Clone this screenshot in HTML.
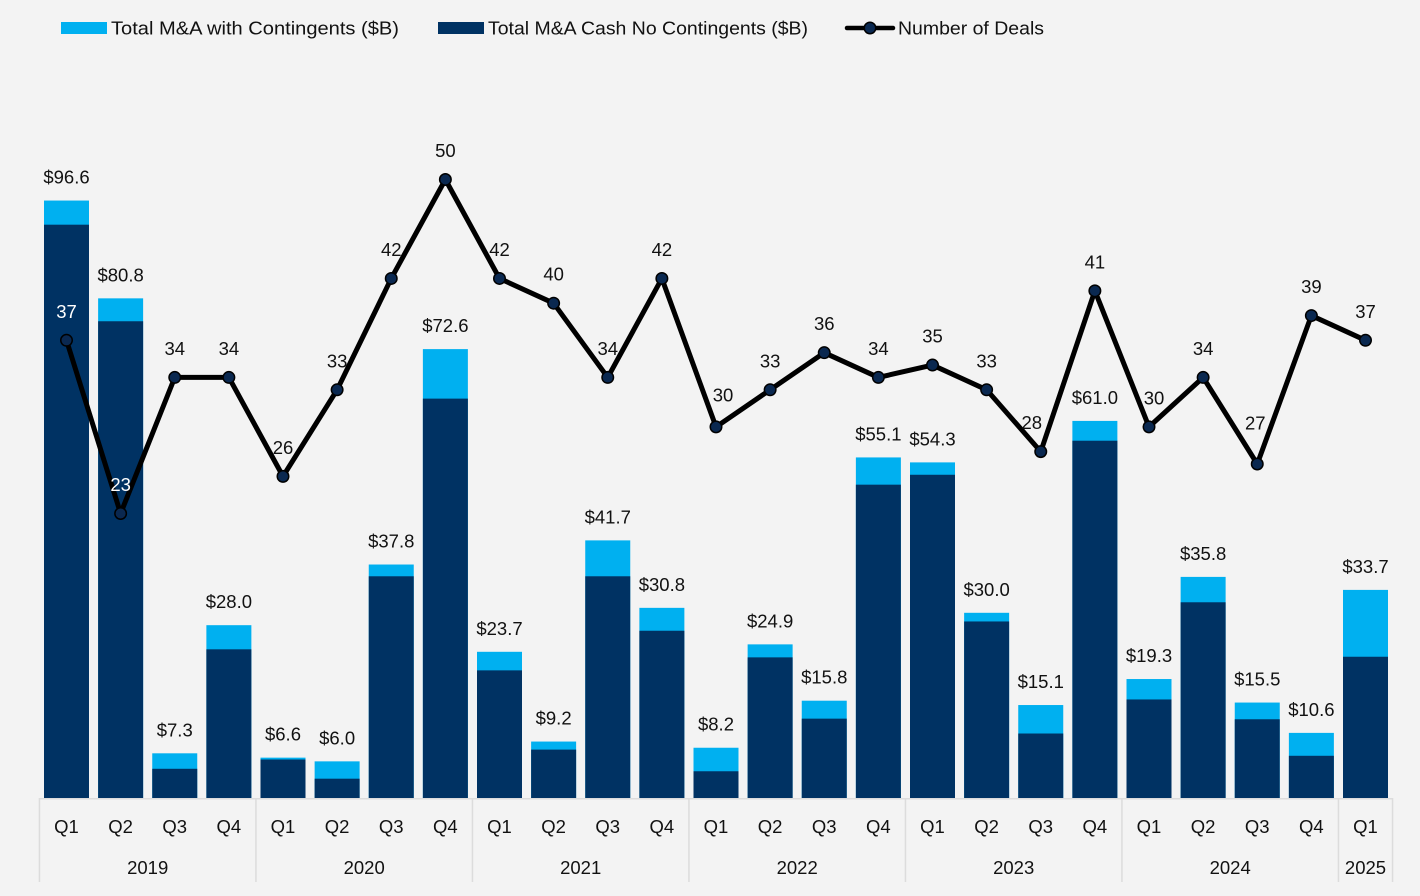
<!DOCTYPE html>
<html lang="en">
<head>
<meta charset="utf-8">
<title>M&amp;A by quarter</title>
<style>
html,body{margin:0;padding:0;background:#f3f3f3;}
svg{display:block;}
text{font-family:"Liberation Sans",sans-serif;font-size:18.5px;fill:#111;}
</style>
</head>
<body>
<svg id="chart" xmlns="http://www.w3.org/2000/svg" width="1420" height="896" viewBox="0 0 1420 896">
  <rect x="0" y="0" width="1420" height="896" fill="#f3f3f3"/>
  <g>
    <rect x="61" y="22" width="46" height="12" fill="#00b0f0"/>
    <text x="111" y="34.5" textLength="288" lengthAdjust="spacingAndGlyphs">Total M&amp;A with Contingents ($B)</text>
    <rect x="438" y="22" width="46" height="12" fill="#003263"/>
    <text x="488" y="34.5" textLength="320" lengthAdjust="spacingAndGlyphs">Total M&amp;A Cash No Contingents ($B)</text>
    <line x1="847" y1="28" x2="893" y2="28" stroke="#000" stroke-width="4.5" stroke-linecap="round"/>
    <circle cx="870" cy="28" r="5.75" fill="#0a2850" stroke="#000" stroke-width="1.5"/>
    <text x="898" y="34.5" textLength="146" lengthAdjust="spacingAndGlyphs">Number of Deals</text>
  </g>
  <g id="bars"></g>
  <g id="axis"></g>
  <g id="line"></g>
  <g id="labels"></g>
</svg>
<script>
const quarters = ["Q1","Q2","Q3","Q4","Q1","Q2","Q3","Q4","Q1","Q2","Q3","Q4","Q1","Q2","Q3","Q4","Q1","Q2","Q3","Q4","Q1","Q2","Q3","Q4","Q1"];
const years = ["2019","2020","2021","2022","2023","2024","2025"];
const quartersPerYear = [4,4,4,4,4,4,1];
const totalValues = [96.6,80.8,7.3,28.0,6.6,6.0,37.8,72.6,23.7,9.2,41.7,30.8,8.2,24.9,15.8,55.1,54.3,30.0,15.1,61.0,19.3,35.8,15.5,10.6,33.7];
const cashValues = [92.7,77.1,4.8,24.1,6.3,3.2,35.9,64.6,20.7,7.9,35.9,27.1,4.4,22.8,12.9,50.7,52.3,28.6,10.5,57.8,16.0,31.7,12.8,6.9,22.9];
const dealValues = [37,23,34,34,26,33,42,50,42,40,34,42,30,33,36,34,35,33,28,41,30,34,27,39,37];
const whiteDealLabels = [0,1];

const NS = "http://www.w3.org/2000/svg";
const BASE_Y = 798, MONEY_BASE = 798.5, STEP = 54.125, FIRST_X = 66.5, BAR_W = 45;
function xPos(i){ return FIRST_X + i * STEP; }
function yMoney(v){ return MONEY_BASE - v * 6.19; }
function yDeals(v){ return BASE_Y - v * 12.37; }
function edgeX(n){ return FIRST_X - STEP / 2 + n * STEP; }
// Hand placement of the deal labels that the source chart moved off their default spot.
function dealLabelShift(i){
  if (i === 12) return [7, -3];
  if (i === 18) return [-9, 0];
  if (i === 20) return [5, 0];
  if (i === 22) return [-2, -12];
  return [0, 0];
}
function make(tag, parent){
  const el = document.createElementNS(NS, tag);
  parent.appendChild(el);
  return el;
}
function setAll(el, props){
  for (const k in props) el.setAttribute(k, props[k]);
}
const barsG = document.getElementById("bars");
const axisG = document.getElementById("axis");
const lineG = document.getElementById("line");
const labelsG = document.getElementById("labels");

totalValues.forEach(function(v, i){
  const light = make("rect", barsG);
  
  
  setAll(light, {x: xPos(i) - BAR_W / 2, y: yMoney(v), width: BAR_W, height: MONEY_BASE - yMoney(v), fill: "#00b0f0"});
  const dark = make("rect", barsG);
  
  
  setAll(dark, {x: xPos(i) - BAR_W / 2, y: yMoney(cashValues[i]), width: BAR_W, height: MONEY_BASE - yMoney(cashValues[i]), fill: "#003263"});
  const lab = make("text", labelsG);
  
  
  setAll(lab, {x: xPos(i), y: yMoney(v) - 17, "text-anchor": "middle"});
  lab.textContent = "$" + v.toFixed(1);
});

const axisLine = make("line", axisG);


setAll(axisLine, {x1: edgeX(0), y1: 798.75, x2: edgeX(quarters.length), y2: 798.75, stroke: "#dcdcdc", "stroke-width": 1.5});

quarters.forEach(function(q, i){
  const t = make("text", axisG);
  
  
  setAll(t, {x: xPos(i), y: 833, "text-anchor": "middle"});
  t.textContent = q;
});

let startIndex = 0;
function separator(n){
  const s = make("line", axisG);
  
  
  setAll(s, {x1: edgeX(n), y1: 798, x2: edgeX(n), y2: 882, stroke: "#dcdcdc", "stroke-width": 1.5});
}
separator(0);
years.forEach(function(y, k){
  const count = quartersPerYear[k];
  const t = make("text", axisG);
  
  
  setAll(t, {x: (edgeX(startIndex) + edgeX(startIndex + count)) / 2, y: 874, "text-anchor": "middle"});
  t.textContent = y;
  startIndex += count;
  separator(startIndex);
});

const path = make("polyline", lineG);


setAll(path, {points: dealValues.map(function(v, i){ return xPos(i) + "," + yDeals(v); }).join(" "), fill: "none", stroke: "#000", "stroke-width": 5, "stroke-linejoin": "round"});

dealValues.forEach(function(v, i){
  const c = make("circle", lineG);
  
  
  setAll(c, {cx: xPos(i), cy: yDeals(v), r: 5.75, fill: "#0a2850", stroke: "#000", "stroke-width": 1.5});
  const shift = dealLabelShift(i);
  const t = make("text", labelsG);
  
  
  setAll(t, {x: xPos(i) + shift[0], y: yDeals(v) - 22.5 + shift[1], "text-anchor": "middle"});
  if (whiteDealLabels.indexOf(i) >= 0) t.style.fill = "#ffffff";
  t.textContent = v;
});
</script>
</body>
</html>
